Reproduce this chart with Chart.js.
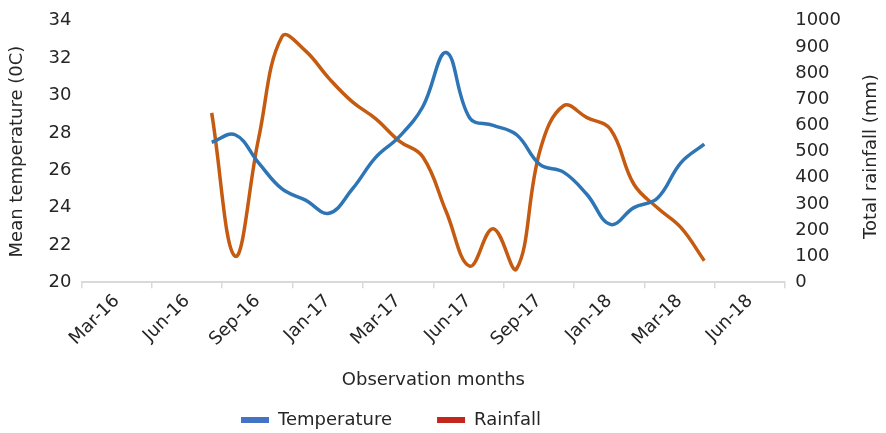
<!DOCTYPE html>
<html><head><meta charset="utf-8">
<script src="https://cdn.jsdelivr.net/npm/chart.js@4/dist/chart.umd.min.js"></script>
<style>html,body{margin:0;padding:0;background:#fff}#wrap{width:886px;height:433px}</style>
</head><body><div id="wrap"><canvas id="c" width="886" height="433"></canvas></div>
<script>
// Quarter tick labels on the x axis
const xTickLabels = ['Mar-16','Jun-16','Sep-16','Jan-17','Mar-17','Jun-17','Sep-17','Jan-18','Mar-18','Jun-18'];
// Monthly observations (Aug-16 .. May-18)
const observationMonths = ['Aug-16','Sep-16','Oct-16','Nov-16','Dec-16','Jan-17','Feb-17','Mar-17','Apr-17','May-17','Jun-17','Jul-17','Aug-17','Sep-17','Oct-17','Nov-17','Dec-17','Jan-18','Feb-18','Mar-18','Apr-18','May-18'];
const temperature = [27.5,27.9,26.4,25.0,24.4,23.7,25.0,26.7,27.8,29.4,32.3,28.8,28.4,27.9,26.3,25.9,24.7,23.1,24.0,24.5,26.4,27.4];
const rainfall = [648,100,550,940,885,780,690,625,540,480,270,62,205,52,505,675,630,585,375,285,210,83];
// position of first observation on the quarter axis, and one month in quarter units
const firstObsPos = 1.85;
const monthStep = 1/3;

const FONT = {family:'DejaVu Sans', size:18};
const TXT = '#262626';
const toPoints = arr => arr.map((v,i)=>({x:firstObsPos + i*monthStep, y:v}));

const rightTitle = {
  id:'rightTitle',
  afterDraw(chart){
    const s = chart.scales.yR, a = chart.chartArea, ctx = chart.ctx;
    ctx.save();
    ctx.font = '18px "DejaVu Sans"';
    ctx.fillStyle = TXT;
    ctx.textAlign = 'center';
    ctx.textBaseline = 'middle';
    ctx.translate(s.left + 86, (a.top + a.bottom)/2 + 5);
    ctx.rotate(-Math.PI/2);
    ctx.fillText('Total rainfall (mm)', 0, 0);
    ctx.restore();
  }
};
const legendShift = {
  id:'legendShift',
  afterLayout(chart){
    const l = chart.legend;
    l.left -= 36; l.right -= 36;
    l.top -= 27;
  }
};

new Chart(document.getElementById('c'), {
  type:'line',
  data:{datasets:[
    {label:'Temperature', data:toPoints(temperature), borderColor:'#2E75B6', backgroundColor:'#4472C4', borderWidth:3.5, pointRadius:0, tension:0.4, yAxisID:'yT'},
    {label:'Rainfall', data:toPoints(rainfall), borderColor:'#C55A11', backgroundColor:'#C3261C', borderWidth:3.5, pointRadius:0, tension:0.4, yAxisID:'yR'}
  ]},
  options:{
    responsive:false, animation:false,
    layout:{padding:{left:3, right:35, top:6, bottom:0}},
    plugins:{
      tooltip:{enabled:false},
      legend:{position:'bottom', maxHeight:40, labels:{font:FONT, color:TXT, boxWidth:28, boxHeight:6, padding:45,
        generateLabels(chart){ return chart.data.datasets.map((d,i)=>({text:d.label, fillStyle:d.backgroundColor, strokeStyle:d.backgroundColor, lineWidth:0, datasetIndex:i, fontColor:TXT})); }}}
    },
    scales:{
      x:{type:'linear', min:0, max:10,
        afterBuildTicks(s){ s.ticks = xTickLabels.map((_,i)=>({value:i+0.5})); },
        afterFit(s){ s.paddingLeft = 0; s.paddingRight = 0; },
        ticks:{callback:(v,i)=>xTickLabels[i], autoSkip:false, maxRotation:45, minRotation:45, font:FONT, color:TXT, padding:2},
        grid:{offset:true, drawOnChartArea:false, color:'#d9d9d9', tickLength:6, lineWidth:1.5},
        border:{color:'#d9d9d9', width:2},
        title:{display:true, text:'Observation months', font:FONT, color:TXT, padding:{top:17,bottom:2}}},
      yT:{position:'left', min:20, max:34,
        ticks:{stepSize:2, padding:10, font:FONT, color:TXT},
        grid:{display:false, drawTicks:false}, border:{display:false},
        title:{display:true, text:'Mean temperature (0C)', font:FONT, color:TXT, padding:{top:4,bottom:10}}},
      yR:{position:'right', min:0, max:1000,
        ticks:{stepSize:100, padding:10, font:FONT, color:TXT, callback:v=>String(v)},
        grid:{display:false, drawTicks:false}, border:{display:false}}
    }
  },
  plugins:[rightTitle, legendShift]
});
</script></body></html>
